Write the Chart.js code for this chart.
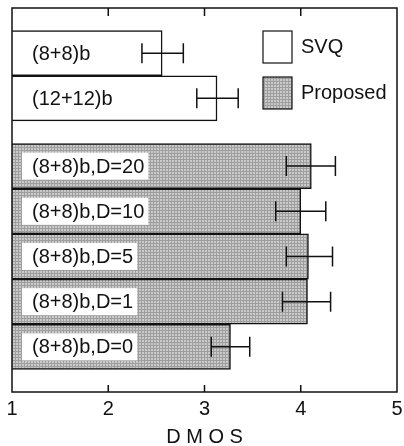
<!DOCTYPE html>
<html>
<head>
<meta charset="utf-8">
<script src="https://cdn.jsdelivr.net/npm/chart.js@4"></script>
<style>
  html, body { margin: 0; padding: 0; background: #fff; }
</style>
</head>
<body>
<canvas id="grafico" width="404" height="446"></canvas>
<script>
// Datos
const svqEtiquetas = ['(8+8)b', '(12+12)b'];
const svqMedia = [2.56, 3.13];
const svqMin = [2.35, 2.92];
const svqMax = [2.78, 3.35];

const propEtiquetas = ['(8+8)b,D=20', '(8+8)b,D=10', '(8+8)b,D=5', '(8+8)b,D=1', '(8+8)b,D=0'];
const propMedia = [4.11, 4.00, 4.08, 4.07, 3.27];
const propMin = [3.85, 3.74, 3.85, 3.81, 3.07];
const propMax = [4.36, 4.26, 4.33, 4.31, 3.47];

const ticksX = [1, 2, 3, 4, 5];
const nombresSeries = ['SVQ', 'Proposed'];

const fuente = "'Liberation Sans', Arial, Helvetica, sans-serif";
const negro = '#111';

// Trama gris en cuadrícula para las barras "Proposed"
function crearTrama() {
    const c = document.createElement('canvas');
    c.width = 3;
    c.height = 3;
    const g = c.getContext('2d');
    g.fillStyle = '#cacaca';
    g.fillRect(0, 0, 3, 3);
    g.fillStyle = '#9e9e9e';
    g.fillRect(0, 0, 3, 1);
    g.fillRect(0, 0, 1, 3);
    return g.createPattern(c, 'repeat');
}
const trama = crearTrama();

// Posición en el eje y: un hueco de media barra entre grupos
const svqDatos = svqMedia.map((v, i) => ({ x: v, y: i + 1 }));
const propDatos = propMedia.map((v, i) => ({ x: v, y: svqMedia.length + 1.5 + i }));
const yMax = svqMedia.length + propMedia.length + 1.5;

const barrasError = {
    id: 'barrasError',
    afterDatasetsDraw(chart) {
        const ctx = chart.ctx;
        const area = chart.chartArea;
        const ex = chart.scales.x;
        const grupos = [
            { etiquetas: svqEtiquetas, min: svqMin, max: svqMax },
            { etiquetas: propEtiquetas, min: propMin, max: propMax }
        ];
        ctx.save();
        ctx.font = '20px ' + fuente;
        ctx.textBaseline = 'middle';
        ctx.textAlign = 'left';
        grupos.forEach((gr, d) => {
            const meta = chart.getDatasetMeta(d);
            meta.data.forEach((barra, i) => {
                const y = barra.y;
                // etiqueta con caja blanca
                const ancho = ctx.measureText(gr.etiquetas[i]).width;
                if (d > 0) {
                    ctx.fillStyle = '#fff';
                    ctx.fillRect(area.left + 10, y - 13.5, ancho + 14, 27);
                }
                ctx.fillStyle = negro;
                ctx.fillText(gr.etiquetas[i], area.left + 20, y + 1);
                // barra de error
                const x0 = ex.getPixelForValue(gr.min[i]);
                const x1 = ex.getPixelForValue(gr.max[i]);
                ctx.strokeStyle = negro;
                ctx.lineWidth = 1.5;
                ctx.beginPath();
                ctx.moveTo(x0, y);
                ctx.lineTo(x1, y);
                ctx.moveTo(x0, y - 10);
                ctx.lineTo(x0, y + 10);
                ctx.moveTo(x1, y - 10);
                ctx.lineTo(x1, y + 10);
                ctx.stroke();
            });
        });

        // marco y marcas hacia dentro
        ctx.strokeStyle = negro;
        ctx.lineWidth = 1.5;
        ctx.strokeRect(area.left, area.top, area.right - area.left, area.bottom - area.top);
        ctx.beginPath();
        ticksX.slice(1, -1).forEach(t => {
            const x = ex.getPixelForValue(t);
            ctx.moveTo(x, area.top);
            ctx.lineTo(x, area.top + 8);
            ctx.moveTo(x, area.bottom);
            ctx.lineTo(x, area.bottom - 7);
        });
        ctx.stroke();

        // leyenda
        const lx = area.right - 134;
        const rellenos = ['#fff', trama];
        nombresSeries.forEach((nombre, k) => {
            const ly = area.top + 23 + k * 46;
            ctx.fillStyle = rellenos[k];
            ctx.fillRect(lx, ly, 29, 32);
            ctx.lineWidth = 1.2;
            ctx.strokeRect(lx, ly, 29, 32);
            ctx.fillStyle = negro;
            ctx.fillText(nombre, lx + 38, ly + 16);
        });
        ctx.restore();
    }
};

const ctx = document.getElementById('grafico').getContext('2d');
new Chart(ctx, {
    type: 'bar',
    data: {
        datasets: [{
            label: nombresSeries[0],
            data: svqDatos,
            backgroundColor: '#fff',
            borderColor: negro,
            borderWidth: 1.5,
            barPercentage: 1,
            categoryPercentage: 1,
            grouped: false
        }, {
            label: nombresSeries[1],
            data: propDatos,
            backgroundColor: trama,
            borderColor: negro,
            borderWidth: 1.5,
            barPercentage: 1,
            categoryPercentage: 1,
            grouped: false
        }]
    },
    options: {
        indexAxis: 'y',
        responsive: false,
        animation: false,
        layout: { padding: { left: 12, top: 8, right: 7, bottom: 0 } },
        plugins: {
            legend: { display: false },
            tooltip: { enabled: false }
        },
        scales: {
            x: {
                type: 'linear',
                min: 1,
                max: 5,
                afterBuildTicks: s => { s.ticks = ticksX.map(v => ({ value: v })); },
                ticks: { color: negro, font: { family: fuente, size: 20 }, padding: 5 },
                grid: { display: false, drawTicks: false },
                border: { display: false },
                title: {
                    display: true,
                    text: 'D M O S',
                    color: negro,
                    font: { family: fuente, size: 20 },
                    padding: { top: 0, bottom: -3 }
                },
                afterFit: s => {
                    s.height = 54;
                    s.paddingLeft = 0;
                    s.paddingRight = 0;
                }
            },
            y: {
                type: 'linear',
                min: 0,
                max: yMax,
                reverse: true,
                offset: false,
                display: false,
                afterBuildTicks: s => { s.ticks = [{ value: 0 }, { value: yMax }]; }
            }
        }
    },
    plugins: [barrasError]
});
</script>
</body>
</html>
